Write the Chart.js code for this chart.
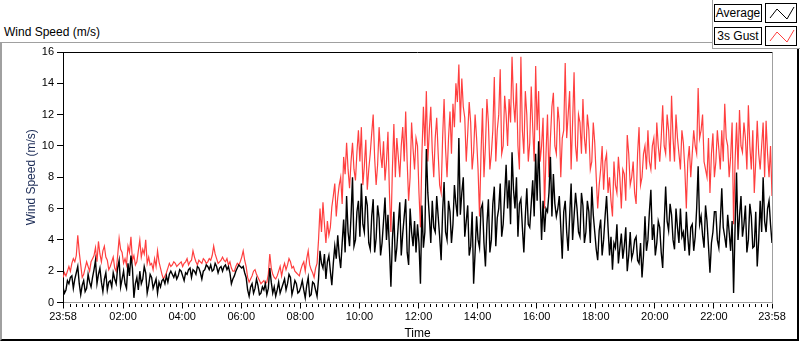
<!DOCTYPE html>
<html>
<head>
<meta charset="utf-8">
<script src="https://cdn.jsdelivr.net/npm/chart.js@4.4.1/dist/chart.umd.min.js"></script>
<style>
  html, body { margin: 0; padding: 0; background: #fff; }
  body { width: 800px; height: 342px; overflow: hidden; position: relative; font-family: 'Liberation Sans', Arial, sans-serif; }
  #frame { position: absolute; left: 0; top: 42px; width: 795px; height: 296px; border-left: 2px solid #a0a0a0; border-top: 1px solid #a0a0a0; border-right: 2px solid #000; border-bottom: 2px solid #000; }
  #title { position: absolute; left: 4px; top: 25px; font-size: 12px; line-height: 14px; color: #000; }
  #legend { position: absolute; left: 712px; top: 0; width: 87px; height: 48px; background: #fff; border-left: 1px solid #a0a0a0; border-bottom: 1px solid #a0a0a0; z-index: 3; }
  .ltext { position: absolute; left: 1px; width: 46px; height: 16px; border: 1px solid #000; font-size: 12px; line-height: 16px; text-align: center; color: #000; background: #fff; }
  .licon { position: absolute; left: 52px; width: 30px; height: 18px; border: 1px solid #000; background: #fff; }
  .licon svg { display: block; }
  canvas { position: absolute; left: 0; top: 0; z-index: 2; }
</style>
</head>
<body>
<div id="frame"></div>
<div id="title">Wind Speed (m/s)</div>
<div id="legend">
  <div class="ltext" style="top:4px">Average</div>
  <div class="licon" style="top:3px"><svg width="30" height="18"><polyline points="4,14 11,5 21,15 28,3" fill="none" stroke="#000" stroke-width="1"/></svg></div>
  <div class="ltext" style="top:27px">3s Gust</div>
  <div class="licon" style="top:26px"><svg width="30" height="18"><polyline points="4,14 11,5 21,15 28,3" fill="none" stroke="#ff3f3f" stroke-width="1"/></svg></div>
</div>
<canvas id="c" width="800" height="342"></canvas>
<script>
// ---- Data ----
// Samples every 3 minutes, starting at 23:58 (minute 0) up to 23:58 next day (minute 1440)
const SAMPLE_STEP_MIN = 3;

const average = [
  1.0,0.6,0.8,1.4,1.2,1.6,1.7,0.9,1.5,1.9,2.3,1.2,0.5,1.1,1.4,0.7,0.9,1.8,1.3,1.0,
  1.6,2.1,2.7,1.2,1.8,2.2,1.3,0.7,1.5,1.9,0.8,1.3,1.4,1.0,1.9,1.5,1.2,2.2,2.7,1.0,
  1.5,2.0,1.2,0.9,2.5,1.7,3.0,2.2,0.3,1.2,1.6,0.8,2.0,1.2,1.5,2.3,1.9,0.6,1.1,1.8,
  1.6,0.9,1.2,1.5,0.6,1.3,1.0,1.4,1.5,1.2,1.7,1.3,1.8,2.0,1.8,1.6,1.9,1.5,1.7,2.1,
  2.0,1.7,1.4,1.9,1.8,2.1,2.2,1.6,2.1,2.0,1.8,2.3,2.2,1.9,1.5,2.0,2.1,2.4,2.3,2.1,
  2.4,2.0,2.1,2.5,2.3,1.9,2.2,2.3,2.0,2.3,2.4,2.1,2.3,1.9,1.2,1.5,1.7,2.0,2.2,2.4,
  2.3,2.2,2.3,1.9,1.6,0.8,0.4,1.0,1.2,0.6,0.9,1.5,1.1,0.5,0.6,1.0,0.8,1.2,0.5,0.9,
  2.2,1.3,0.6,1.0,0.4,0.8,1.3,0.6,0.9,1.2,1.5,0.8,1.2,1.8,1.6,0.5,0.9,1.4,1.2,0.6,
  0.7,1.0,1.4,0.8,0.3,1.1,1.6,0.4,0.5,1.3,1.2,0.8,0.4,1.5,3.3,2.5,2.2,3.1,1.5,2.6,
  3.0,2.0,1.1,2.5,3.6,2.8,4.3,3.0,2.2,3.8,5.3,3.2,6.8,4.5,3.6,5.5,8.0,3.6,4.0,5.8,
  6.5,4.2,7.6,5.0,4.5,6.8,6.2,3.8,3.4,5.5,6.6,3.2,4.1,6.2,5.4,3.0,3.8,5.2,6.7,4.0,
  5.6,3.5,1.0,4.0,5.8,2.6,3.5,5.0,6.4,3.0,4.4,5.5,6.6,3.2,2.4,6.0,4.5,3.6,5.2,3.2,
  5.0,3.8,1.2,6.2,3.5,4.5,9.8,7.0,5.5,3.8,6.5,4.8,4.5,6.8,5.5,4.2,2.7,5.8,7.7,4.5,
  4.0,6.5,5.8,3.8,5.0,7.5,6.3,5.5,10.5,5.6,7.0,8.0,4.2,5.2,6.2,3.0,3.6,5.8,1.2,3.2,
  5.5,4.0,3.5,6.0,6.3,3.8,2.3,5.0,6.6,3.2,4.0,6.3,7.4,3.6,5.4,6.0,7.6,4.2,5.0,6.8,
  8.8,6.0,7.8,5.0,9.6,7.2,6.0,8.0,4.2,6.3,6.6,4.8,3.2,5.5,7.3,5.0,4.8,6.3,7.8,5.5,
  9.5,6.5,10.3,7.0,4.0,6.5,4.5,6.0,5.8,7.0,9.3,5.5,8.2,6.3,5.5,6.0,6.8,4.8,2.8,5.8,
  6.5,4.5,3.3,5.5,7.6,4.0,5.5,7.0,6.0,4.5,4.2,7.0,6.2,3.8,4.5,6.5,5.8,3.8,7.4,5.6,
  4.5,3.4,2.7,4.6,5.3,3.0,4.0,5.5,6.8,4.8,3.0,4.2,2.1,3.8,3.5,5.0,2.5,3.5,4.4,2.8,
  3.6,4.8,2.0,3.0,4.5,2.8,3.2,4.0,4.2,2.7,2.5,3.8,1.6,3.0,5.5,3.3,4.0,5.8,7.2,4.0,
  5.0,3.0,3.8,5.2,4.8,3.2,2.2,5.0,7.4,5.2,4.6,6.3,5.6,4.0,3.4,6.0,4.8,3.8,6.0,4.2,
  4.5,3.3,5.8,4.2,3.0,4.8,5.0,3.3,4.2,6.0,8.7,5.0,5.5,4.3,3.5,6.2,5.2,3.6,1.9,3.8,
  4.5,5.8,5.8,4.0,3.5,5.2,7.3,4.8,4.2,3.5,5.6,4.5,3.3,5.2,0.6,4.8,8.3,4.0,5.5,6.8,
  4.2,5.0,6.2,3.2,4.0,6.3,5.5,3.5,3.6,5.8,2.3,4.0,6.5,4.5,8.0,5.2,4.5,6.0,6.5,5.0,
  3.8
];

const gust3s = [
  1.6,1.9,1.7,2.0,2.3,2.0,2.5,2.8,2.6,3.0,4.3,3.2,2.4,1.6,1.8,2.2,2.6,2.3,2.0,2.6,
  2.8,3.0,3.5,2.6,3.9,3.1,2.6,3.3,3.6,2.9,2.7,2.1,2.3,2.6,2.9,2.2,2.0,3.0,4.1,3.4,
  3.2,2.5,2.8,2.4,3.6,3.2,4.2,2.7,3.0,2.4,2.6,3.3,4.0,2.9,3.4,3.1,4.0,2.5,2.9,2.4,
  2.5,2.1,2.8,2.3,3.3,2.6,2.2,1.8,1.5,1.7,1.9,2.2,2.5,2.3,2.4,2.6,2.5,2.3,2.4,2.5,
  2.6,2.3,2.5,2.6,2.8,2.4,2.6,2.7,3.3,2.9,2.6,2.4,2.7,2.6,2.5,2.8,2.7,2.5,2.6,2.8,
  2.7,3.0,3.6,3.1,2.8,2.5,2.6,2.7,2.9,2.7,2.6,2.8,2.4,2.6,2.2,2.0,2.0,2.3,2.5,2.4,
  2.6,2.9,3.3,2.7,2.3,1.6,1.3,1.5,1.7,2.0,2.1,1.8,1.6,1.4,1.2,1.3,1.4,1.2,1.3,1.8,
  3.1,2.2,1.8,1.6,1.5,1.7,2.0,2.3,1.7,2.2,2.5,2.1,2.4,2.8,2.6,2.2,2.3,2.0,1.9,1.8,
  1.7,2.1,2.4,2.6,2.0,2.8,3.3,2.4,2.1,1.9,1.6,2.2,2.5,4.0,6.0,4.5,6.4,5.0,3.8,5.2,
  4.3,4.8,6.1,6.8,7.6,5.5,6.7,7.5,8.0,6.3,9.3,8.2,10.2,8.5,7.3,9.0,10.2,8.5,7.8,9.6,
  11.0,9.0,11.2,7.5,8.7,10.4,7.2,8.5,9.5,10.8,12.0,9.2,7.5,8.8,11.2,9.5,8.6,10.3,7.8,9.0,
  10.9,7.0,4.5,8.5,11.4,8.0,10.5,9.3,8.0,10.0,11.2,9.0,12.2,9.0,6.5,8.0,11.5,9.8,8.5,10.5,
  10.0,7.0,4.8,9.5,12.5,10.0,13.5,9.0,11.0,12.5,9.7,8.0,10.5,11.8,9.5,7.5,7.0,10.5,13.0,9.8,
  8.0,10.5,12.2,9.5,12.7,11.2,14.0,12.8,15.2,11.5,14.3,12.5,11.8,9.0,10.8,12.8,11.5,8.5,9.6,12.0,
  10.5,8.5,5.5,9.5,12.4,8.0,10.0,13.0,11.5,8.5,9.5,11.0,14.4,9.0,11.0,12.0,14.9,9.5,10.0,13.2,
  12.0,10.0,13.0,11.5,15.7,12.8,11.5,14.0,10.0,8.5,15.7,11.0,9.5,13.5,12.0,9.0,10.2,13.8,11.2,9.0,
  15.1,11.0,13.5,9.0,10.0,11.8,6.0,9.5,12.0,8.0,10.5,12.5,13.4,10.0,9.5,12.5,11.5,8.0,10.5,11.0,
  15.3,10.5,12.0,13.5,8.5,11.5,14.7,10.0,9.0,12.0,11.5,9.5,13.0,10.5,9.5,12.0,11.0,8.5,9.0,11.5,
  10.2,8.0,6.0,7.5,8.5,10.0,7.2,9.0,9.5,7.0,8.0,6.5,5.5,9.0,7.5,7.0,9.3,8.0,6.0,8.5,
  8.2,6.5,10.7,9.5,7.5,8.0,9.0,7.0,6.3,9.5,11.2,7.5,8.0,9.5,10.0,8.5,11.0,9.0,8.5,10.0,
  10.5,8.5,11.5,10.0,9.0,10.5,12.6,10.0,9.5,12.0,11.0,9.0,13.2,10.5,9.0,12.0,10.5,9.5,8.5,11.0,
  10.2,8.5,6.0,9.0,10.0,8.0,9.5,11.0,10.0,9.5,13.7,10.5,11.0,12.0,9.0,8.5,8.0,10.5,7.0,9.5,
  10.8,8.0,9.0,11.0,9.8,8.5,11.0,9.0,12.7,10.5,10.0,8.0,9.3,11.5,5.0,9.0,11.5,8.5,12.3,10.0,
  9.6,11.5,10.5,8.5,12.6,10.0,8.5,11.0,7.0,9.0,11.6,9.5,8.5,10.0,11.5,8.0,11.6,9.5,8.0,10.0,
  6.8
];

// Time axis tick labels (minutes after 23:58)
const xTickMinutes = [0, 122, 242, 362, 482, 602, 722, 842, 962, 1082, 1202, 1322, 1440];
const xTickLabels  = ['23:58','02:00','04:00','06:00','08:00','10:00','12:00','14:00','16:00','18:00','20:00','22:00','23:58'];
const xMinorStepMin = 12;
const yTickValues = [0, 2, 4, 6, 8, 10, 12, 14, 16];

// ---- Build chart ----
const sampleMinutes = average.map((_, i) => i * SAMPLE_STEP_MIN);
const avgPoints = average.map((v, i) => ({ x: sampleMinutes[i], y: v }));
const gustPoints = gust3s.map((v, i) => ({ x: sampleMinutes[i], y: v }));

Chart.defaults.font.family = "'Liberation Sans', Arial, sans-serif";
Chart.defaults.font.size = 11;
Chart.defaults.color = '#000';

const framePlugin = {
  id: 'framePlugin',
  afterDraw(chart) {
    const { ctx, chartArea: a } = chart;
    const xs = chart.scales.x;
    ctx.save();
    ctx.lineWidth = 1;
    ctx.strokeStyle = '#000';
    ctx.beginPath();
    ctx.moveTo(Math.round(a.left) - 0.5, Math.round(a.top) + 0.5);
    ctx.lineTo(Math.round(a.right) + 0.5, Math.round(a.top) + 0.5);
    ctx.stroke();
    ctx.strokeStyle = '#a0a0a0';
    ctx.beginPath();
    ctx.moveTo(Math.round(a.right) + 0.5, Math.round(a.top) + 1);
    ctx.lineTo(Math.round(a.right) + 0.5, Math.round(a.bottom) + 1);
    ctx.stroke();
    // minor ticks on the time axis
    ctx.strokeStyle = '#000';
    ctx.beginPath();
    for (let m = 2 + xMinorStepMin; m < 1440; m += xMinorStepMin) {
      if (xTickMinutes.some(t => Math.abs(t - m) < 3)) continue;
      const px = Math.round(xs.getPixelForValue(m)) + 0.5;
      ctx.moveTo(px, Math.round(a.bottom) + 1);
      ctx.lineTo(px, Math.round(a.bottom) + 4);
    }
    ctx.stroke();
    ctx.restore();
  }
};

new Chart(document.getElementById('c'), {
  type: 'line',
  data: {
    datasets: [
      { label: 'Average', data: avgPoints, borderColor: '#000', borderWidth: 1.4, pointRadius: 0, tension: 0, fill: false },
      { label: '3s Gust', data: gustPoints, borderColor: '#ff3f3f', borderWidth: 1.2, pointRadius: 0, tension: 0, fill: false }
    ]
  },
  options: {
    responsive: false,
    animation: false,
    devicePixelRatio: 1,
    layout: { padding: { left: 0, top: 52, right: 28, bottom: 0 } },
    plugins: { legend: { display: false }, tooltip: { enabled: false } },
    scales: {
      x: {
        type: 'linear',
        min: 0, max: 1440,
        afterBuildTicks: (s) => { s.ticks = xTickMinutes.map(v => ({ value: v })); },
        afterFit: (s) => { s.height = 39.5; },
        ticks: {
          autoSkip: false, maxRotation: 0, padding: 2, color: '#000',
          callback: (v) => { const k = xTickMinutes.indexOf(v); return k >= 0 ? xTickLabels[k] : ''; }
        },
        grid: { drawOnChartArea: false, drawTicks: true, tickLength: 6, color: '#000' },
        border: { display: true, color: '#a0a0a0', width: 1 },
        title: { display: true, text: 'Time', color: '#000', font: { size: 12 }, padding: { top: 0, bottom: 1 } }
      },
      y: {
        min: 0, max: 16,
        afterBuildTicks: (s) => { s.ticks = yTickValues.map(v => ({ value: v })); },
        afterFit: (s) => { s.width = 63; },
        ticks: { padding: 3, color: '#000', callback: (v) => String(v) },
        grid: { drawOnChartArea: false, drawTicks: true, tickLength: 6, color: '#000' },
        border: { display: true, color: '#000', width: 1 },
        title: { display: true, text: 'Wind Speed (m/s)', color: '#1a2a55', font: { size: 12 }, padding: { top: 24, bottom: 0 } }
      }
    }
  },
  plugins: [framePlugin]
});
</script>
</body>
</html>
